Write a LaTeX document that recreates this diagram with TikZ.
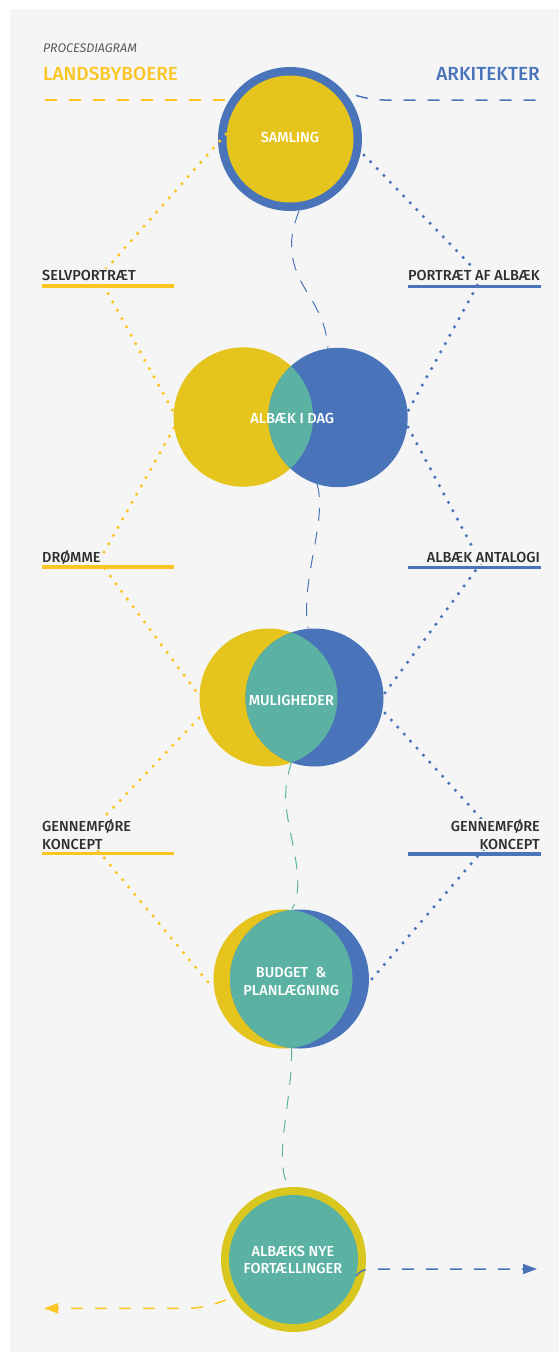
\documentclass[tikz,border=0pt]{standalone}
\usepackage{fontspec}
\setmainfont{Fira Sans}
\newfontfamily\medfont{Fira Sans Medium}
\usetikzlibrary{arrows.meta}
\definecolor{bg}{HTML}{F5F5F5}
\definecolor{ylab}{HTML}{FBC623}
\definecolor{ycirc}{HTML}{E5C41D}
\definecolor{ringy}{HTML}{D9C61F}
\definecolor{bluec}{HTML}{4A74B9}
\definecolor{tealc}{HTML}{5BB2A3}
\definecolor{ink}{HTML}{2E2E2E}
\definecolor{gray5}{HTML}{5A5A5A}
\tikzset{
  dotline/.style={line width=3.5pt, line cap=round, dash pattern=on 0pt off 9.5pt},
  dashcurve/.style={line width=1pt, dash pattern=on 13pt off 11pt},
  hdash/.style={line width=1.5pt, dash pattern=on 12pt off 12pt},
  lab/.style={font=\medfont\fontsize{14.5}{17.3}\selectfont, text=ink, fill=bg, inner sep=1pt},
  circtext/.style={font=\medfont\fontsize{14.5}{17.5}\selectfont, text=white, align=center, inner sep=0pt},
  barline/.style={line width=3.7pt},
  tip/.style={-{Triangle[length=14pt,width=10pt]}}
}
\begin{document}
\begin{tikzpicture}[x=1pt,y=-1pt]
\useasboundingbox (0,0) rectangle (559,1353);
\fill[white] (0,0) rectangle (559,1353);
\fill[bg] (10,9) rectangle (559,1352);

% titles
\node[anchor=base west, inner sep=0pt, font=\fontsize{12.5}{15}\selectfont\itshape, text=gray5] (title) at (42.8,52.3) {PROCESDIAGRAM};
\node[anchor=base west, inner sep=0pt, font=\medfont\fontsize{19}{21}\selectfont, text=ylab] (lands) at (42.8,80) {LANDSBYBOERE};
\node[anchor=base east, inner sep=0pt, font=\medfont\fontsize{19}{21}\selectfont, text=bluec] (arki) at (540,80) {ARKITEKTER};

% centres
\coordinate (sam) at (290,139);
\coordinate (ay) at (243.3,417);
\coordinate (ab) at (338,417.5);
\coordinate (my) at (268.5,697.5);
\coordinate (mb) at (314.5,697.5);
\coordinate (by) at (283,979);
\coordinate (bb) at (299.5,979);
\coordinate (fin) at (293.5,1259.5);

% top dashed lines
\coordinate (tyA) at (225,100); \coordinate (tyB) at (41,100);
\draw[ylab, hdash] (tyA) -- (tyB);
\coordinate (tbA) at (356,95.5); \coordinate (tbB) at (540,100);
\draw[bluec, hdash] (tbA) .. controls (366,98) and (372,100) .. (385,100) -- (tbB);

% circles
\fill[bluec] (sam) circle[radius=72pt];
\fill[ycirc] (sam) circle[radius=63.5pt];

\fill[ycirc] (ay) circle[radius=69.7pt];
\fill[bluec] (ab) circle[radius=69.7pt];
\begin{scope}
  \clip (ay) circle[radius=69.7pt];
  \fill[tealc] (ab) circle[radius=69.7pt];
\end{scope}

\fill[ycirc] (my) circle[radius=69pt];
\fill[bluec] (mb) circle[radius=69pt];
\begin{scope}
  \clip (my) circle[radius=69pt];
  \fill[tealc] (mb) circle[radius=69pt];
\end{scope}

\fill[ycirc] (by) circle[radius=69.5pt];
\fill[bluec] (bb) circle[radius=69.5pt];
\begin{scope}
  \clip (by) circle[radius=69.5pt];
  \fill[tealc] (bb) circle[radius=69.5pt];
\end{scope}

\fill[ringy] (fin) circle[radius=72.5pt];
\fill[tealc] (fin) circle[radius=64.5pt];

% dotted connectors, yellow side
\coordinate (sY0) at (226,134);
\coordinate (vY1) at (99,277);
\coordinate (aY1) at (174,413);
\coordinate (aY2) at (174,428);
\coordinate (vY2) at (99,561);
\coordinate (mY1) at (198,694);
\coordinate (mY2) at (199,718);
\coordinate (vY3) at (86,836);
\coordinate (bY) at (213,988);
\draw[ylab, dotline] (sY0) -- (vY1);
\draw[ylab, dotline] (vY1) -- (aY1);
\draw[ylab, dotline] (aY2) -- (vY2);
\draw[ylab, dotline] (vY2) -- (mY1);
\draw[ylab, dotline] (mY2) -- (vY3);
\draw[ylab, dotline] (vY3) -- (bY);

% dotted connectors, blue side
\coordinate (sB0) at (364,155);
\coordinate (vB1) at (482,277);
\coordinate (aB1) at (407.5,412);
\coordinate (aB2) at (408,427);
\coordinate (vB2) at (481,563);
\coordinate (mB1) at (385,693);
\coordinate (mB2) at (385,713);
\coordinate (vB3) at (496,835);
\coordinate (bB) at (371,980);
\draw[bluec, dotline] (sB0) -- (vB1);
\draw[bluec, dotline] (vB1) -- (aB1);
\draw[bluec, dotline] (aB2) -- (vB2);
\draw[bluec, dotline] (vB2) -- (mB1);
\draw[bluec, dotline] (mB2) -- (vB3);
\draw[bluec, dotline] (vB3) -- (bB);

% dashed curves down the middle
\coordinate (c1a) at (299,211); \coordinate (c1b) at (328,349);
\draw[bluec, dashcurve] (c1a) .. controls (291,232) and (289,248) .. (295,267) .. controls (302,292) and (326,310) .. (c1b);
\coordinate (c2a) at (317,484); \coordinate (c2b) at (308,628);
\draw[bluec, dashcurve] (c2a) .. controls (328,520) and (300,580) .. (c2b);
\coordinate (c3a) at (291.5,762); \coordinate (c3b) at (292,909);
\draw[tealc, dashcurve] (c3a) .. controls (283,790) and (285,805) .. (290,830) .. controls (296,860) and (303,890) .. (c3b);
\coordinate (c4a) at (291.5,1048); \coordinate (c4b) at (289,1187);
\draw[tealc, dashcurve] (c4a) .. controls (293,1100) and (272,1160) .. (c4b);

% output arrows
\coordinate (arB0) at (356,1276); \coordinate (arB1) at (537,1269);
\draw[bluec, hdash, tip] (arB0) .. controls (360,1271) and (364,1269) .. (372,1269) -- (arB1);
\coordinate (arY0) at (226,1300); \coordinate (arY1) at (44,1308.3);
\draw[ylab, hdash, tip] (arY0) .. controls (210,1306) and (200,1308.3) .. (185,1308.3) -- (arY1);

% bars
\draw[ylab, barline] (42,286) -- (174,286);
\draw[ylab, barline] (42,567) -- (174,567);
\draw[ylab, barline] (42,853.5) -- (174,853.5);
\draw[bluec, barline] (407.5,286.5) -- (541,286.5);
\draw[bluec, barline] (407.5,567.5) -- (541,567.5);
\draw[bluec, barline] (407.5,854.3) -- (541,854.3);

% side labels
\node[lab, anchor=base west] (selv) at (41,280.7) {SELVPORTRÆT};
\node[lab, anchor=base east] (portr) at (541,280.7) {PORTRÆT AF ALBÆK};
\node[lab, anchor=base west] (droem) at (41,562.3) {DRØMME};
\node[lab, anchor=base east] (antal) at (541,562.3) {ALBÆK ANTALOGI};
\node[lab, anchor=base west, align=left] (genL) at (41,849) {GENNEMFØRE\\KONCEPT};
\node[lab, anchor=base east, align=right] (genR) at (541,849) {GENNEMFØRE\\KONCEPT};

% circle texts
\node[circtext, anchor=base] (tsam) at (290,142.7) {SAMLING};
\node[circtext, anchor=base] (talb) at (292.3,423.3) {ALBÆK I DAG};
\node[circtext, anchor=base] (tmul) at (291.4,705) {MULIGHEDER};
\node[circtext, anchor=base, font=\medfont\fontsize{14.5}{18}\selectfont] (tbud) at (291.2,995.7) {BUDGET\ \ \&\\PLANLÆGNING};
\node[circtext, anchor=base, font=\medfont\fontsize{14.5}{16.6}\selectfont] (tfin) at (293,1273.3) {ALBÆKS NYE\\FORTÆLLINGER};
\end{tikzpicture}
\end{document}
